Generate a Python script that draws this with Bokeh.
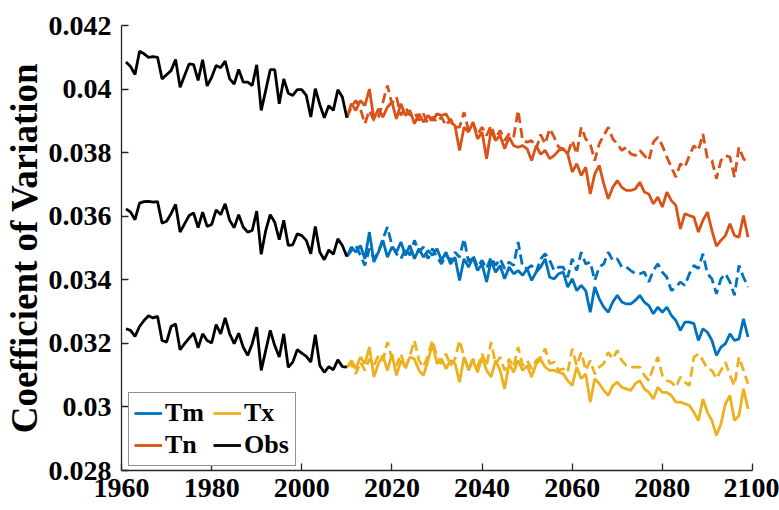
from bokeh.plotting import figure
from bokeh.models import Range1d, Legend, LegendItem, FixedTicker, CustomJSTickFormatter
from bokeh.embed import file_html
from bokeh.resources import INLINE

# ---------------- data ----------------
obs_years = list(range(1961, 2011))
fut_years = list(range(2010, 2100))

obs_tn = [0.04085, 0.04071, 0.04046, 0.04119, 0.04111, 0.04100, 0.04102, 0.04100, 0.04032, 0.04045,
          0.04058, 0.04093, 0.04006, 0.04043, 0.04079, 0.04077, 0.04027, 0.04092, 0.04010, 0.04037,
          0.04074, 0.04067, 0.04088, 0.04032, 0.04016, 0.04062, 0.04022, 0.04022, 0.04011, 0.04076,
          0.03933, 0.03996, 0.04061, 0.04061, 0.03954, 0.04032, 0.03987, 0.03980, 0.03998, 0.03998,
          0.03980, 0.03912, 0.04001, 0.03951, 0.03910, 0.03948, 0.03933, 0.03998, 0.03975, 0.03910]
obs_tm = [0.03623, 0.03613, 0.03589, 0.03641, 0.03646, 0.03647, 0.03644, 0.03646, 0.03578, 0.03584,
          0.03608, 0.03637, 0.03550, 0.03576, 0.03602, 0.03610, 0.03564, 0.03613, 0.03568, 0.03574,
          0.03620, 0.03605, 0.03639, 0.03587, 0.03564, 0.03605, 0.03566, 0.03550, 0.03555, 0.03616,
          0.03480, 0.03555, 0.03605, 0.03581, 0.03526, 0.03587, 0.03508, 0.03510, 0.03545, 0.03539,
          0.03524, 0.03482, 0.03568, 0.03487, 0.03463, 0.03494, 0.03480, 0.03529, 0.03508, 0.03473]
obs_tx = [0.03246, 0.03241, 0.03222, 0.03253, 0.03272, 0.03287, 0.03280, 0.03285, 0.03209, 0.03204,
          0.03253, 0.03261, 0.03180, 0.03199, 0.03216, 0.03232, 0.03186, 0.03230, 0.03209, 0.03201,
          0.03259, 0.03230, 0.03280, 0.03230, 0.03199, 0.03232, 0.03188, 0.03162, 0.03199, 0.03251,
          0.03115, 0.03178, 0.03241, 0.03193, 0.03157, 0.03230, 0.03125, 0.03141, 0.03180, 0.03169,
          0.03159, 0.03141, 0.03227, 0.03130, 0.03109, 0.03127, 0.03117, 0.03148, 0.03127, 0.03125]

tn_solid = [0.03910, 0.03954, 0.03933, 0.03964, 0.03948, 0.04000, 0.03906, 0.03938, 0.03912, 0.03943,
            0.03959, 0.03906, 0.03954, 0.03917, 0.03933, 0.03891, 0.03922, 0.03896, 0.03917, 0.03901,
            0.03922, 0.03917, 0.03922, 0.03896, 0.03885, 0.03807, 0.03880, 0.03865, 0.03896, 0.03843,
            0.03865, 0.03781, 0.03870, 0.03838, 0.03854, 0.03812, 0.03849, 0.03822, 0.03817, 0.03822,
            0.03812, 0.03775, 0.03822, 0.03795, 0.03807, 0.03781, 0.03791, 0.03807, 0.03812, 0.03796,
            0.03739, 0.03765, 0.03728, 0.03754, 0.03670, 0.03733, 0.03760, 0.03702, 0.03655, 0.03691,
            0.03712, 0.03691, 0.03681, 0.03681, 0.03686, 0.03707, 0.03676, 0.03670, 0.03639, 0.03660,
            0.03629, 0.03676, 0.03649, 0.03634, 0.03560, 0.03608, 0.03602, 0.03597, 0.03550, 0.03587,
            0.03613, 0.03555, 0.03506, 0.03524, 0.03539, 0.03576, 0.03539, 0.03534, 0.03602, 0.03534]
tn_dash = [0.03910, 0.03943, 0.03964, 0.03938, 0.03891, 0.03933, 0.03901, 0.03912, 0.03959, 0.04011,
           0.03954, 0.03975, 0.03917, 0.03943, 0.03917, 0.03927, 0.03901, 0.03922, 0.03891, 0.03912,
           0.03896, 0.03912, 0.03885, 0.03906, 0.03880, 0.03880, 0.03927, 0.03870, 0.03891, 0.03859,
           0.03880, 0.03854, 0.03885, 0.03843, 0.03870, 0.03838, 0.03859, 0.03849, 0.03933, 0.03838,
           0.03833, 0.03838, 0.03812, 0.03857, 0.03828, 0.03875, 0.03849, 0.03817, 0.03812, 0.03796,
           0.03838, 0.03796, 0.03880, 0.03843, 0.03828, 0.03775, 0.03828, 0.03854, 0.03880, 0.03843,
           0.03828, 0.03807, 0.03817, 0.03796, 0.03791, 0.03807, 0.03791, 0.03775, 0.03833, 0.03849,
           0.03822, 0.03786, 0.03754, 0.03723, 0.03765, 0.03754, 0.03791, 0.03822, 0.03807, 0.03859,
           0.03781, 0.03775, 0.03718, 0.03775, 0.03791, 0.03786, 0.03723, 0.03817, 0.03781, 0.03765]
tm_solid = [0.03473, 0.03503, 0.03487, 0.03508, 0.03466, 0.03550, 0.03456, 0.03487, 0.03524, 0.03471,
            0.03503, 0.03487, 0.03519, 0.03477, 0.03508, 0.03466, 0.03498, 0.03471, 0.03492, 0.03477,
            0.03498, 0.03461, 0.03487, 0.03450, 0.03471, 0.03398, 0.03466, 0.03440, 0.03471, 0.03429,
            0.03450, 0.03393, 0.03461, 0.03424, 0.03445, 0.03403, 0.03440, 0.03419, 0.03429, 0.03414,
            0.03435, 0.03398, 0.03424, 0.03440, 0.03466, 0.03408, 0.03403, 0.03419, 0.03424, 0.03377,
            0.03403, 0.03366, 0.03382, 0.03366, 0.03298, 0.03377, 0.03340, 0.03314, 0.03298, 0.03330,
            0.03351, 0.03330, 0.03324, 0.03324, 0.03335, 0.03351, 0.03330, 0.03319, 0.03293, 0.03314,
            0.03298, 0.03314, 0.03288, 0.03272, 0.03241, 0.03267, 0.03267, 0.03262, 0.03209, 0.03246,
            0.03235, 0.03209, 0.03162, 0.03188, 0.03199, 0.03230, 0.03209, 0.03214, 0.03277, 0.03220]
tm_dash = [0.03473, 0.03492, 0.03508, 0.03477, 0.03445, 0.03498, 0.03466, 0.03487, 0.03529, 0.03566,
           0.03508, 0.03482, 0.03466, 0.03498, 0.03477, 0.03524, 0.03487, 0.03503, 0.03466, 0.03498,
           0.03471, 0.03450, 0.03477, 0.03461, 0.03487, 0.03471, 0.03529, 0.03456, 0.03477, 0.03440,
           0.03461, 0.03435, 0.03471, 0.03445, 0.03466, 0.03435, 0.03456, 0.03445, 0.03519, 0.03440,
           0.03435, 0.03445, 0.03424, 0.03466, 0.03482, 0.03461, 0.03429, 0.03440, 0.03440, 0.03408,
           0.03466, 0.03429, 0.03487, 0.03450, 0.03456, 0.03398, 0.03440, 0.03450, 0.03487, 0.03461,
           0.03466, 0.03440, 0.03440, 0.03429, 0.03419, 0.03419, 0.03424, 0.03393, 0.03429, 0.03450,
           0.03424, 0.03408, 0.03366, 0.03377, 0.03393, 0.03382, 0.03419, 0.03445, 0.03435, 0.03482,
           0.03419, 0.03403, 0.03356, 0.03403, 0.03419, 0.03393, 0.03351, 0.03445, 0.03408, 0.03377]
tx_solid = [0.03125, 0.03146, 0.03120, 0.03157, 0.03136, 0.03188, 0.03094, 0.03136, 0.03162, 0.03115,
            0.03167, 0.03099, 0.03146, 0.03125, 0.03157, 0.03151, 0.03115, 0.03099, 0.03146, 0.03199,
            0.03136, 0.03151, 0.03120, 0.03146, 0.03136, 0.03078, 0.03157, 0.03115, 0.03146, 0.03109,
            0.03157, 0.03115, 0.03094, 0.03146, 0.03115, 0.03057, 0.03136, 0.03109, 0.03146, 0.03115,
            0.03130, 0.03094, 0.03136, 0.03150, 0.03125, 0.03115, 0.03115, 0.03109, 0.03104, 0.03083,
            0.03067, 0.03125, 0.03089, 0.03104, 0.03015, 0.03089, 0.03073, 0.03052, 0.03036, 0.03067,
            0.03078, 0.03062, 0.03057, 0.03052, 0.03073, 0.03083, 0.03057, 0.03046, 0.03025, 0.03062,
            0.03046, 0.03046, 0.03036, 0.03015, 0.03015, 0.03010, 0.03004, 0.02983, 0.02957, 0.03025,
            0.02983, 0.02957, 0.02910, 0.02947, 0.03010, 0.03036, 0.02957, 0.02973, 0.03057, 0.02994]
tx_dash = [0.03125, 0.03136, 0.03104, 0.03141, 0.03115, 0.03151, 0.03130, 0.03162, 0.03146, 0.03204,
           0.03151, 0.03130, 0.03167, 0.03120, 0.03162, 0.03209, 0.03146, 0.03125, 0.03162, 0.03209,
           0.03157, 0.03136, 0.03167, 0.03130, 0.03151, 0.03209, 0.03157, 0.03120, 0.03151, 0.03125,
           0.03167, 0.03130, 0.03204, 0.03136, 0.03157, 0.03115, 0.03151, 0.03125, 0.03188, 0.03130,
           0.03146, 0.03120, 0.03146, 0.03157, 0.03183, 0.03136, 0.03141, 0.03115, 0.03120, 0.03109,
           0.03183, 0.03130, 0.03172, 0.03115, 0.03146, 0.03104, 0.03125, 0.03136, 0.03172, 0.03151,
           0.03178, 0.03146, 0.03130, 0.03125, 0.03125, 0.03125, 0.03099, 0.03083, 0.03125, 0.03157,
           0.03099, 0.03083, 0.03078, 0.03062, 0.03094, 0.03078, 0.03067, 0.03157, 0.03167, 0.03146,
           0.03120, 0.03115, 0.03089, 0.03115, 0.03141, 0.03099, 0.03067, 0.03157, 0.03115, 0.03073]

x_ticks = [1960, 1980, 2000, 2020, 2040, 2060, 2080, 2100]
y_ticks = [0.028, 0.030, 0.032, 0.034, 0.036, 0.038, 0.040, 0.042]
y_tick_labels = ["0.028", "0.03", "0.032", "0.034", "0.036", "0.038", "0.04", "0.042"]

# ---------------- figure ----------------
C_TM, C_TN, C_TX, C_OBS = "#0072BD", "#D95319", "#EDB120", "#000000"
FONT = "Liberation Serif"
LW = 2.8
DASH = "10 5"

p = figure(width=779, height=510, output_backend="svg", toolbar_location=None,
           x_range=Range1d(1960, 2100), y_range=Range1d(0.028, 0.042),
           min_border_left=121, min_border_right=27, min_border_top=25, min_border_bottom=40)
p.outline_line_color = None
p.grid.visible = False
p.background_fill_color = "white"
p.border_fill_color = "white"

r_tm_d = p.line(fut_years, tm_dash, line_color=C_TM, line_width=LW, line_dash=DASH)
r_tm = p.line(fut_years, tm_solid, line_color=C_TM, line_width=LW)
r_tn_d = p.line(fut_years, tn_dash, line_color=C_TN, line_width=LW, line_dash=DASH)
r_tn = p.line(fut_years, tn_solid, line_color=C_TN, line_width=LW)
r_tx_d = p.line(fut_years, tx_dash, line_color=C_TX, line_width=LW, line_dash=DASH)
r_tx = p.line(fut_years, tx_solid, line_color=C_TX, line_width=LW)
r_obs = p.line(obs_years, obs_tm, line_color=C_OBS, line_width=LW)
p.line(obs_years, obs_tn, line_color=C_OBS, line_width=LW)
p.line(obs_years, obs_tx, line_color=C_OBS, line_width=LW)

# axes
p.xaxis.ticker = FixedTicker(ticks=x_ticks)
p.yaxis.ticker = FixedTicker(ticks=y_ticks)
p.yaxis.formatter = CustomJSTickFormatter(args=dict(vals=y_ticks, labels=y_tick_labels), code="""
let best = 0;
for (let i = 0; i < vals.length; i++) {
  if (Math.abs(vals[i] - tick) < Math.abs(vals[best] - tick)) best = i;
}
return labels[best];
""")
for ax in (p.xaxis[0], p.yaxis[0]):
    ax.major_tick_in = 7
    ax.major_tick_out = 0
    ax.minor_tick_line_color = None
    ax.axis_line_color = "#262626"
    ax.axis_line_width = 1.3
    ax.major_tick_line_color = "#262626"
    ax.major_tick_line_width = 1.3
    ax.major_label_text_font = FONT
    ax.major_label_text_font_style = "bold"
    ax.major_label_text_font_size = "28px"
    ax.major_label_text_color = "#000000"
p.xaxis.major_label_standoff = 8
p.yaxis.major_label_standoff = 10
p.yaxis.axis_label = "Coefficient of Variation"
p.yaxis.axis_label_text_font = FONT
p.yaxis.axis_label_text_font_style = "bold"
p.yaxis.axis_label_text_font_size = "37px"
p.yaxis.axis_label_text_color = "#000000"
p.yaxis.axis_label_standoff = 1

legend = Legend(items=[LegendItem(label="Tm", renderers=[r_tm]),
                       LegendItem(label="Tx", renderers=[r_tx]),
                       LegendItem(label="Tn", renderers=[r_tn]),
                       LegendItem(label="Obs", renderers=[r_obs])],
                orientation="horizontal", ncols=2, location=(7, 4),
                label_text_font=FONT, label_text_font_style="bold",
                label_text_font_size="26px", label_text_color="#000000")
legend.label_standoff = 3
legend.glyph_width = 28
legend.glyph_height = 30
legend.label_height = 30
legend.label_width = 46
legend.padding = 5
legend.spacing = 2
legend.margin = 0
legend.border_line_color = "#262626"
legend.border_line_width = 1.3
legend.background_fill_alpha = 1
p.add_layout(legend)

open("out.html", "w").write(file_html(p, INLINE))
